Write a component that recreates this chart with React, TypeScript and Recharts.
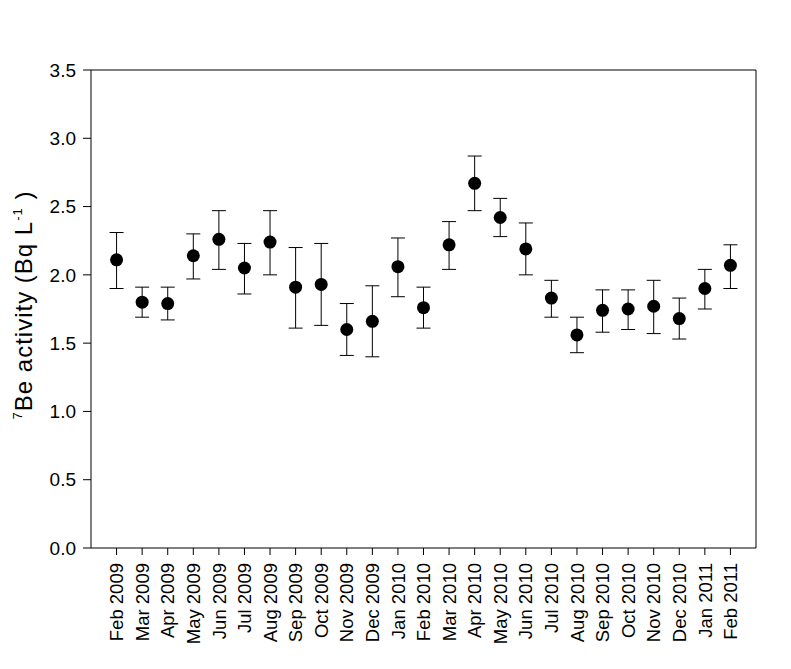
import {
  ScatterChart,
  Scatter,
  XAxis,
  YAxis,
  ErrorBar,
  ReferenceLine,
} from "recharts";

const months = [
  "Feb 2009", "Mar 2009", "Apr 2009", "May 2009", "Jun 2009", "Jul 2009",
  "Aug 2009", "Sep 2009", "Oct 2009", "Nov 2009", "Dec 2009", "Jan 2010",
  "Feb 2010", "Mar 2010", "Apr 2010", "May 2010", "Jun 2010", "Jul 2010",
  "Aug 2010", "Sep 2010", "Oct 2010", "Nov 2010", "Dec 2010", "Jan 2011",
  "Feb 2011",
];

// 7Be activity (Bq/L), mean with the lower and upper ends of the error bars
const activity = [
  2.11, 1.80, 1.79, 2.14, 2.26, 2.05, 2.24, 1.91, 1.93, 1.60, 1.66, 2.06,
  1.76, 2.22, 2.67, 2.42, 2.19, 1.83, 1.56, 1.74, 1.75, 1.77, 1.68, 1.90,
  2.07,
];
const lowerEnd = [
  1.90, 1.69, 1.67, 1.97, 2.04, 1.86, 2.00, 1.61, 1.63, 1.41, 1.40, 1.84,
  1.61, 2.04, 2.47, 2.28, 2.00, 1.69, 1.43, 1.58, 1.60, 1.57, 1.53, 1.75,
  1.90,
];
const upperEnd = [
  2.31, 1.91, 1.91, 2.30, 2.47, 2.23, 2.47, 2.20, 2.23, 1.79, 1.92, 2.27,
  1.91, 2.39, 2.87, 2.56, 2.38, 1.96, 1.69, 1.89, 1.89, 1.96, 1.83, 2.04,
  2.22,
];

const yTicks = [0, 0.5, 1, 1.5, 2, 2.5, 3, 3.5];

const data = months.map((m, i) => ({
  x: i + 1,
  y: activity[i],
  err: [activity[i] - lowerEnd[i], upperEnd[i] - activity[i]],
}));

const font = "'Liberation Sans', Arial, sans-serif";

const MonthTick = (props: any) => {
  const { x, y, payload } = props;
  const label = months[payload.value - 1];
  return (
    <text
      x={x}
      y={y}
      transform={`rotate(-90, ${x}, ${y})`}
      textAnchor="end"
      dy="0.36em"
      fontSize={18.5}
      fontFamily={font}
      fill="#000"
    >
      {label}
    </text>
  );
};

const Dot = (props: any) => <circle cx={props.cx} cy={props.cy} r={6.5} fill="#000" />;

export default function App() {
  return (
    <div style={{ position: "absolute", left: 0, top: 0, width: 791, height: 669, background: "#fff" }}>
      <ScatterChart
        width={791}
        height={669}
        margin={{ top: 70, right: 35, bottom: 0, left: 1 }}
      >
        <XAxis
          type="number"
          dataKey="x"
          domain={[0, 26]}
          ticks={months.map((_, i) => i + 1)}
          interval={0}
          height={121}
          tickSize={7}
          tickMargin={8}
          tick={<MonthTick />}
          axisLine={{ stroke: "#000" }}
          tickLine={{ stroke: "#000" }}
        />
        <YAxis
          type="number"
          dataKey="y"
          domain={[0, 3.5]}
          ticks={yTicks}
          width={90}
          tickSize={8}
          tickMargin={7}
          tickFormatter={(v: number) => v.toFixed(1)}
          tick={{ fill: "#000", fontSize: 19, fontFamily: font }}
          axisLine={{ stroke: "#000" }}
          tickLine={{ stroke: "#000" }}
          label={
            <text
              x={37}
              y={314}
              transform="rotate(-90, 37, 314)"
              textAnchor="middle"
              fontSize={24}
              letterSpacing={1}
              fontFamily={font}
              fill="#000"
            >
              <tspan fontSize={13} dy={-10}>7</tspan>
              <tspan dy={10}>Be activity (Bq L</tspan>
              <tspan fontSize={13} dy={-10}>-1</tspan>
              <tspan dy={10}> )</tspan>
            </text>
          }
        />
        <ReferenceLine y={3.5} stroke="#000" />
        <ReferenceLine x={26} stroke="#000" />
        <Scatter data={data} shape={<Dot />} isAnimationActive={false}>
          <ErrorBar dataKey="err" direction="y" width={7} stroke="#000" strokeWidth={1} />
        </Scatter>
      </ScatterChart>
    </div>
  );
}
